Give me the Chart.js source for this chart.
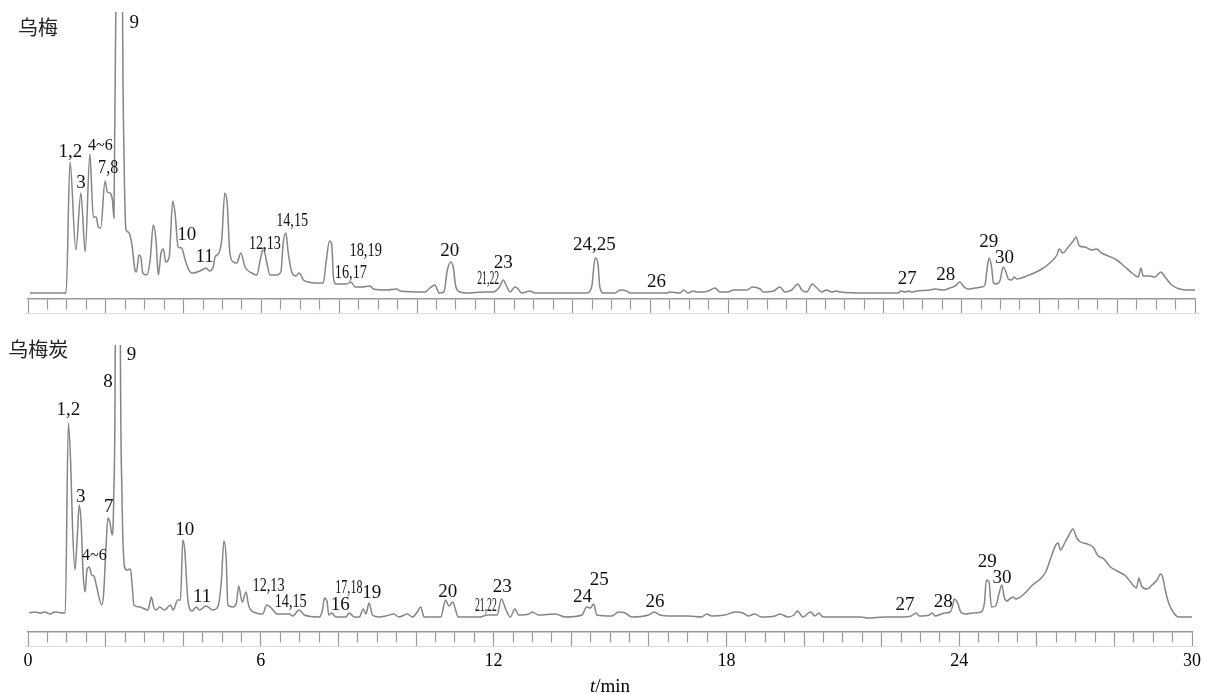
<!DOCTYPE html>
<html>
<head>
<meta charset="utf-8">
<script src="https://cdn.jsdelivr.net/npm/chart.js@4.4.0/dist/chart.umd.min.js"></script>
<style>
  html, body { margin: 0; padding: 0; background: #fff; }
  #wrap { position: relative; width: 1205px; height: 694px; }
  #topBox { position: absolute; left: 0; top: 0; width: 1205px; height: 330px; }
  #botBox { position: absolute; left: 0; top: 330px; width: 1205px; height: 364px; }
</style>
</head>
<body>
<div id="wrap">
  <div id="topBox"><canvas id="wumei"></canvas></div>
  <div id="botBox"><canvas id="wumeitan"></canvas></div>
</div>
<script>
// 乌梅 trace (t / min, signal)
const wumeiTime = [
  0.05, 0.95, 0.98, 1.08, 1.23, 1.36, 1.47, 1.59, 1.68, 1.75,
  1.81, 1.87, 1.98, 2.04, 2.11, 2.17, 2.21, 2.26, 2.35, 2.43,
  2.47, 2.52, 2.58, 2.62, 2.68, 2.75, 2.79, 2.85, 2.90, 2.95,
  3.05, 3.14, 3.22, 3.29, 3.35, 3.42, 3.48, 3.54, 3.63, 3.72,
  3.78, 3.86, 3.95, 4.04, 4.17, 4.25, 4.42, 4.58, 4.66, 4.76,
  4.81, 4.89, 4.98, 5.06, 5.12, 5.19, 5.28, 5.37, 5.47, 5.58,
  5.75, 5.88, 5.98, 6.05, 6.14, 6.22, 6.39, 6.50, 6.56, 6.63,
  6.69, 6.78, 6.89, 6.97, 7.08, 7.21, 7.38, 7.51, 7.59, 7.66,
  7.75, 7.81, 7.85, 7.92, 8.19, 8.30, 8.41, 8.58, 8.79, 8.88,
  9.22, 9.48, 9.56, 10.21, 10.33, 10.46, 10.57, 10.69, 10.78, 10.87,
  10.93, 11.00, 11.11, 11.28, 11.71, 11.96, 12.12, 12.22, 12.29, 12.39,
  12.52, 12.60, 12.69, 12.91, 13.03, 14.36, 14.49, 14.58, 14.65, 14.70,
  14.79, 15.09, 15.22, 15.39, 15.48, 16.42, 16.50, 16.76, 16.85, 16.97,
  17.10, 17.19, 17.36, 17.49, 17.66, 17.79, 18.00, 18.13, 18.48, 18.63,
  18.82, 18.90, 19.16, 19.33, 19.46, 19.63, 19.79, 19.89, 20.02, 20.16,
  20.28, 20.40, 20.53, 20.66, 20.79, 20.87, 21.56, 22.37, 22.43, 22.55,
  22.63, 22.72, 22.85, 23.19, 23.32, 23.53, 23.70, 23.83, 23.96, 24.04,
  24.17, 24.34, 24.52, 24.60, 24.66, 24.71, 24.77, 24.82, 24.90, 24.99,
  25.07, 25.14, 25.20, 25.29, 25.35, 25.42, 25.67, 26.02, 26.27, 26.45,
  26.51, 26.60, 26.74, 26.87, 26.94, 27.03, 27.17, 27.34, 27.47, 27.60,
  27.77, 27.99, 28.20, 28.41, 28.54, 28.61, 28.67, 28.84, 28.97, 29.12,
  29.23, 29.40, 29.61, 29.79, 30.00
];
const wumeiSignal = [
  6, 6, 6, 137, 49, 106, 47, 145, 82, 82,
  72, 71, 118, 107, 106, 99, 81, 300, 1500, 300,
  140, 69, 67, 64, 52, 29, 27, 44, 42, 26,
  24, 39, 74, 59, 24, 46, 50, 37, 42, 98,
  86, 52, 51, 39, 27, 26, 28, 31, 28, 32,
  42, 45, 59, 106, 96, 46, 37, 36, 46, 32,
  26, 24, 41, 51, 36, 24, 24, 27, 56, 66,
  46, 27, 23, 26, 19, 17, 16, 16, 16, 36,
  58, 54, 22, 15, 15, 17, 12, 12, 13, 10,
  9, 10, 8, 7, 11, 14, 6, 7, 29, 37,
  32, 12, 7, 6, 7, 7, 12, 19, 14, 7,
  12, 10, 6, 8, 6, 6, 12, 41, 36, 12,
  6, 6, 9, 8, 6, 6, 7, 6, 9, 6,
  8, 7, 7, 8, 11, 7, 7, 9, 9, 12,
  10, 7, 8, 12, 7, 9, 15, 9, 7, 15,
  11, 7, 9, 7, 8, 7, 6, 6, 8, 7,
  8, 7, 8, 9, 10, 9, 11, 13, 17, 13,
  10, 11, 12, 14, 32, 41, 32, 16, 15, 19,
  32, 27, 20, 19, 22, 20, 23, 29, 36, 44,
  50, 46, 52, 58, 62, 53, 52, 49, 50, 46,
  43, 39, 32, 25, 22, 31, 23, 23, 22, 27,
  22, 14, 10, 9, 9
];

// 乌梅炭 trace (t / min, signal)
const wumeitanTime = [
  0.03, 0.18, 0.31, 0.44, 0.57, 0.69, 0.91, 0.96, 1.04, 1.10,
  1.15, 1.21, 1.27, 1.32, 1.37, 1.42, 1.47, 1.52, 1.58, 1.64,
  1.70, 1.77, 1.90, 1.95, 2.01, 2.06, 2.11, 2.17, 2.21, 2.25,
  2.31, 2.38, 2.42, 2.49, 2.55, 2.64, 2.68, 2.73, 2.88, 3.09,
  3.18, 3.24, 3.31, 3.39, 3.52, 3.67, 3.74, 3.86, 3.93, 3.99,
  4.04, 4.12, 4.23, 4.34, 4.42, 4.59, 4.76, 4.89, 4.98, 5.05,
  5.11, 5.15, 5.28, 5.37, 5.43, 5.52, 5.62, 5.69, 5.88, 6.05,
  6.15, 6.27, 6.43, 6.74, 6.82, 6.99, 7.12, 7.51, 7.59, 7.64,
  7.71, 7.75, 7.83, 7.94, 8.19, 8.28, 8.41, 8.54, 8.64, 8.71,
  8.79, 8.88, 9.05, 9.22, 9.43, 9.56, 9.78, 9.91, 10.03, 10.12,
  10.21, 10.51, 10.64, 10.76, 10.85, 10.95, 11.02, 11.09, 11.36, 11.66,
  11.83, 12.09, 12.20, 12.31, 12.43, 12.55, 12.65, 12.91, 12.99, 13.16,
  13.59, 13.85, 14.28, 14.40, 14.49, 14.58, 14.66, 15.05, 15.22, 15.39,
  15.56, 15.99, 16.14, 16.29, 16.59, 17.02, 17.36, 17.49, 17.62, 17.96,
  18.22, 18.43, 18.56, 18.73, 18.90, 19.25, 19.38, 19.59, 19.74, 19.83,
  19.97, 20.17, 20.28, 20.38, 20.49, 20.79, 21.30, 21.47, 21.65, 22.07,
  22.50, 22.76, 22.89, 22.97, 23.23, 23.30, 23.38, 23.62, 23.77, 23.83,
  23.87, 23.96, 24.04, 24.17, 24.34, 24.56, 24.65, 24.70, 24.77, 24.83,
  24.94, 25.03, 25.10, 25.16, 25.23, 25.33, 25.39, 25.46, 25.67, 25.89,
  26.06, 26.23, 26.36, 26.49, 26.55, 26.61, 26.72, 26.83, 26.93, 27.03,
  27.13, 27.30, 27.47, 27.56, 27.73, 27.90, 28.07, 28.29, 28.50, 28.57,
  28.63, 28.70, 28.84, 28.97, 29.10, 29.19, 29.25, 29.31, 29.40, 29.53,
  29.66, 30.00
];
const wumeitanSignal = [
  19, 20, 19, 20, 18, 20, 19, 19, 209, 169,
  102, 62, 95, 127, 109, 59, 40, 62, 65, 57,
  56, 45, 27, 39, 85, 114, 110, 97, 135, 300,
  1500, 300, 140, 65, 62, 63, 49, 27, 25, 22,
  35, 25, 22, 25, 22, 27, 22, 32, 32, 92,
  82, 32, 21, 25, 22, 26, 22, 25, 49, 91,
  72, 27, 25, 29, 46, 30, 40, 26, 19, 18,
  27, 24, 18, 18, 16, 22, 17, 15, 22, 34,
  30, 17, 19, 15, 15, 19, 15, 15, 23, 18,
  29, 17, 15, 16, 18, 15, 18, 15, 20, 25,
  15, 15, 15, 32, 26, 30, 22, 15, 15, 15,
  17, 17, 33, 23, 15, 23, 17, 18, 20, 17,
  18, 15, 17, 25, 24, 28, 17, 16, 20, 19,
  15, 17, 20, 17, 16, 16, 15, 18, 16, 17,
  20, 19, 16, 18, 15, 16, 18, 15, 17, 21,
  15, 20, 16, 19, 15, 15, 15, 15, 14, 15,
  15, 16, 19, 16, 17, 19, 16, 19, 20, 26,
  33, 29, 20, 18, 19, 20, 29, 52, 50, 25,
  26, 39, 47, 35, 31, 34, 35, 33, 38, 47,
  52, 60, 74, 87, 89, 82, 89, 97, 103, 94,
  90, 88, 84, 77, 73, 65, 61, 56, 46, 44,
  54, 46, 43, 47, 52, 58, 54, 42, 29, 19,
  15, 15
];

// peak numbers: text, retention time, height of the text baseline
const wumeiPeakText = ['1,2', '3', '4~6', '7,8', '9', '10', '11', '12,13', '14,15', '16,17',
  '18,19', '20', '21,22', '23', '24,25', '26', '27', '28', '29', '30'];
const wumeiPeakTime = [1.09, 1.36, 1.86, 2.06, 2.73, 4.08, 4.54, 6.09, 6.79, 8.30,
  8.68, 10.84, 11.83, 12.22, 14.56, 16.16, 22.60, 23.59, 24.70, 25.10];
const wumeiPeakLevel = [142, 111, 149, 126, 271, 59, 37, 50, 73, 21,
  43, 43, 15, 31, 49, 12, 15, 19, 52, 36];

const wumeitanPeakText = ['1,2', '3', '4~6', '7', '8', '9', '10', '11', '12,13', '14,15', '16',
  '17,18', '19', '20', '21,22', '23', '24', '25', '26', '27', '28', '29', '30'];
const wumeitanPeakTime = [1.04, 1.36, 1.71, 2.08, 2.06, 2.67, 4.04, 4.49, 6.20, 6.77, 8.05,
  8.27, 8.86, 10.82, 11.80, 12.22, 14.29, 14.72, 16.16, 22.60, 23.59, 24.72, 25.10];
const wumeitanPeakLevel = [217, 130, 72, 120, 245, 272, 97, 30, 41, 25, 22,
  39, 34, 35, 21, 40, 30, 47, 25, 22, 25, 65, 49];

const tickLabels = [0, 6, 12, 18, 24, 30];

// font size and horizontal squeeze of the narrow labels
const labelFace = {
  '4~6': [16, 1], '7,8': [18, 0.89], '12,13': [18, 0.79], '14,15': [18, 0.79],
  '16,17': [18, 0.79], '18,19': [18, 0.8], '17,18': [18, 0.67], '21,22': [18, 0.54]
};
const serif = '"Liberation Serif", "Times New Roman", serif';

const peakNotes = {
  id: 'peakNotes',
  afterDraw(chart, args, o) {
    const { ctx, chartArea } = chart;
    const x = chart.scales.x, y = chart.scales.y;
    ctx.save();
    // faint rule under the tick marks
    const yr = Math.round(chartArea.bottom + 14) + 0.5;
    ctx.strokeStyle = '#dddddd';
    ctx.lineWidth = 1;
    ctx.beginPath();
    ctx.moveTo(x.left - 3, yr);
    ctx.lineTo(x.right + 5, yr);
    ctx.stroke();

    ctx.fillStyle = '#111';
    ctx.textAlign = 'center';
    ctx.textBaseline = 'alphabetic';
    o.text.forEach((s, i) => {
      const [size, sx] = labelFace[s] || [19, 1];
      ctx.font = size + 'px ' + serif;
      ctx.save();
      ctx.translate(x.getPixelForValue(o.time[i]), y.getPixelForValue(o.level[i]));
      ctx.scale(sx, 1);
      ctx.fillText(s, 0, 0);
      ctx.restore();
    });

    ctx.textAlign = 'left';
    ctx.fillStyle = '#222';
    ctx.font = '20px "Noto Sans CJK SC", sans-serif';
    ctx.fillText(o.name, x.getPixelForValue(o.nameAt[0]), y.getPixelForValue(o.nameAt[1]));

    if (o.axisTitle) {
      const cx = x.getPixelForValue((x.min + x.max) / 2);
      const by = chart.height - 2;
      ctx.fillStyle = '#000';
      ctx.font = 'italic 19px ' + serif;
      const w1 = ctx.measureText('t').width;
      ctx.font = '19px ' + serif;
      const w2 = ctx.measureText('/min').width;
      const sx = cx - (w1 + w2) / 2;
      ctx.font = 'italic 19px ' + serif;
      ctx.fillText('t', sx, by);
      ctx.font = '19px ' + serif;
      ctx.fillText('/min', sx + w1, by);
    }
    ctx.restore();
  }
};

function makeChart(id, time, signal, padTop, axisH, showLabels, notes) {
  return new Chart(document.getElementById(id), {
    type: 'line',
    data: {
      datasets: [{
        data: time.map((t, i) => ({ x: t, y: signal[i] })),
        borderColor: '#858585',
        borderWidth: 1.5,
        pointRadius: 0,
        cubicInterpolationMode: 'monotone',
        fill: false
      }]
    },
    options: {
      responsive: true,
      maintainAspectRatio: false,
      animation: false,
      layout: { padding: { left: 28, right: 10, top: padTop, bottom: 0 } },
      plugins: {
        legend: { display: false },
        tooltip: { enabled: false },
        peakNotes: notes
      },
      scales: {
        x: {
          type: 'linear',
          min: 0,
          max: 30,
          afterFit: s => { s.height = axisH; },
          border: { display: true, color: '#9a9a9a', width: 1.5 },
          grid: {
            drawOnChartArea: false,
            drawTicks: true,
            tickLength: 14,
            tickColor: '#9a9a9a',
            tickWidth: 1.2,
            tickBorderDash: c => (c.tick && c.tick.value % 2 === 0) ? [] : [10, 30]
          },
          ticks: {
            display: showLabels,
            stepSize: 0.5,
            maxTicksLimit: 61,
            autoSkip: false,
            maxRotation: 0,
            minRotation: 0,
            padding: 4,
            color: '#000',
            font: { family: serif, size: 18 },
            callback: v => tickLabels.includes(v) ? String(v) : ''
          }
        },
        y: { display: false, min: 0, max: 287 }
      }
    },
    plugins: [peakNotes]
  });
}

makeChart('wumei', wumeiTime, wumeiSignal, 12, 31, false, {
  text: wumeiPeakText, time: wumeiPeakTime, level: wumeiPeakLevel,
  name: '乌梅', nameAt: [-0.26, 264], axisTitle: false
});
makeChart('wumeitan', wumeitanTime, wumeitanSignal, 15, 62, true, {
  text: wumeitanPeakText, time: wumeitanPeakTime, level: wumeitanPeakLevel,
  name: '乌梅炭', nameAt: [-0.51, 275], axisTitle: true
});
</script>
</body>
</html>
